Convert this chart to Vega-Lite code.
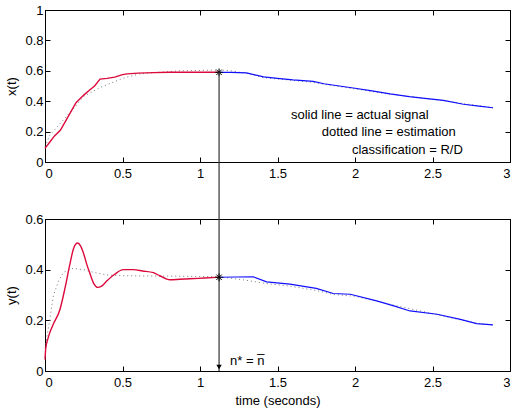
{
  "$schema": "https://vega.github.io/schema/vega-lite/v6.json",
  "padding": {"left": 5, "top": 3, "right": 0, "bottom": 2},
  "background": "white",
  "spacing": 57,
  "bounds": "flush",
  "config": {
    "view": {"stroke": "black", "strokeWidth": 1},
    "axis": {
      "labelFont": "Liberation Sans", "labelFontSize": 13, "labelColor": "black",
      "titleFont": "Liberation Sans", "titleFontSize": 13, "titleFontWeight": "normal", "titleColor": "black",
      "domainColor": "black", "tickColor": "black", "tickSize": -5, "grid": false, "format": "~g"
    },
    "text": {"font": "Liberation Sans", "fontSize": 13}
  },
  "datasets": {
    "top": [
      {"s": "red", "t": 0, "v": 0.09}, {"s": "red", "t": 0.03, "v": 0.13}, {"s": "red", "t": 0.06, "v": 0.17},
      {"s": "red", "t": 0.1, "v": 0.21}, {"s": "red", "t": 0.15, "v": 0.3}, {"s": "red", "t": 0.2, "v": 0.39},
      {"s": "red", "t": 0.25, "v": 0.44}, {"s": "red", "t": 0.29, "v": 0.475}, {"s": "red", "t": 0.32, "v": 0.5},
      {"s": "red", "t": 0.355, "v": 0.545}, {"s": "red", "t": 0.4, "v": 0.55}, {"s": "red", "t": 0.45, "v": 0.558},
      {"s": "red", "t": 0.5, "v": 0.575}, {"s": "red", "t": 0.53, "v": 0.58}, {"s": "red", "t": 0.6, "v": 0.585},
      {"s": "red", "t": 0.7, "v": 0.588}, {"s": "red", "t": 0.8, "v": 0.59}, {"s": "red", "t": 0.9, "v": 0.59},
      {"s": "red", "t": 1.0, "v": 0.59}, {"s": "red", "t": 1.123, "v": 0.59},
      {"s": "blue", "t": 1.123, "v": 0.59}, {"s": "blue", "t": 1.2, "v": 0.59}, {"s": "blue", "t": 1.3, "v": 0.586},
      {"s": "blue", "t": 1.41, "v": 0.56}, {"s": "blue", "t": 1.5, "v": 0.55}, {"s": "blue", "t": 1.6, "v": 0.54},
      {"s": "blue", "t": 1.73, "v": 0.53}, {"s": "blue", "t": 1.8, "v": 0.515}, {"s": "blue", "t": 1.9, "v": 0.5},
      {"s": "blue", "t": 2.0, "v": 0.485}, {"s": "blue", "t": 2.1, "v": 0.47}, {"s": "blue", "t": 2.226, "v": 0.448},
      {"s": "blue", "t": 2.35, "v": 0.43}, {"s": "blue", "t": 2.45, "v": 0.418}, {"s": "blue", "t": 2.57, "v": 0.405},
      {"s": "blue", "t": 2.7, "v": 0.38}, {"s": "blue", "t": 2.8, "v": 0.368}, {"s": "blue", "t": 2.89, "v": 0.357},
      {"s": "est", "t": 0, "v": 0.1}, {"s": "est", "t": 0.03, "v": 0.175}, {"s": "est", "t": 0.13, "v": 0.29},
      {"s": "est", "t": 0.2, "v": 0.37}, {"s": "est", "t": 0.247, "v": 0.43}, {"s": "est", "t": 0.355, "v": 0.49},
      {"s": "est", "t": 0.5, "v": 0.55}, {"s": "est", "t": 0.61, "v": 0.58}, {"s": "est", "t": 0.87, "v": 0.6},
      {"s": "est", "t": 1.12, "v": 0.605}, {"s": "est", "t": 1.2, "v": 0.6}, {"s": "est", "t": 1.3, "v": 0.583},
      {"s": "est", "t": 1.41, "v": 0.555}, {"s": "est", "t": 1.73, "v": 0.524}, {"s": "est", "t": 1.8, "v": 0.511},
      {"s": "est", "t": 2.2, "v": 0.45}, {"s": "est", "t": 2.57, "v": 0.404}, {"s": "est", "t": 2.89, "v": 0.356}
    ],
    "bottom": [
      {"s": "red", "t": 0, "v": 0.045}, {"s": "red", "t": 0.005, "v": 0.09}, {"s": "red", "t": 0.02, "v": 0.13},
      {"s": "red", "t": 0.05, "v": 0.18}, {"s": "red", "t": 0.097, "v": 0.244}, {"s": "red", "t": 0.13, "v": 0.33},
      {"s": "red", "t": 0.16, "v": 0.42}, {"s": "red", "t": 0.185, "v": 0.485}, {"s": "red", "t": 0.21, "v": 0.505},
      {"s": "red", "t": 0.23, "v": 0.493}, {"s": "red", "t": 0.25, "v": 0.462}, {"s": "red", "t": 0.27, "v": 0.42},
      {"s": "red", "t": 0.29, "v": 0.385}, {"s": "red", "t": 0.315, "v": 0.345}, {"s": "red", "t": 0.34, "v": 0.33},
      {"s": "red", "t": 0.365, "v": 0.335}, {"s": "red", "t": 0.4, "v": 0.356}, {"s": "red", "t": 0.45, "v": 0.382},
      {"s": "red", "t": 0.505, "v": 0.4}, {"s": "red", "t": 0.57, "v": 0.4}, {"s": "red", "t": 0.63, "v": 0.395},
      {"s": "red", "t": 0.7, "v": 0.388}, {"s": "red", "t": 0.74, "v": 0.376}, {"s": "red", "t": 0.806, "v": 0.36},
      {"s": "red", "t": 0.87, "v": 0.362}, {"s": "red", "t": 0.935, "v": 0.364}, {"s": "red", "t": 1.03, "v": 0.367},
      {"s": "red", "t": 1.123, "v": 0.37},
      {"s": "blue", "t": 1.123, "v": 0.37}, {"s": "blue", "t": 1.344, "v": 0.372}, {"s": "blue", "t": 1.43, "v": 0.352},
      {"s": "blue", "t": 1.58, "v": 0.343}, {"s": "blue", "t": 1.75, "v": 0.326}, {"s": "blue", "t": 1.86, "v": 0.306},
      {"s": "blue", "t": 1.97, "v": 0.303}, {"s": "blue", "t": 2.14, "v": 0.277}, {"s": "blue", "t": 2.25, "v": 0.257},
      {"s": "blue", "t": 2.355, "v": 0.237}, {"s": "blue", "t": 2.53, "v": 0.224}, {"s": "blue", "t": 2.68, "v": 0.204},
      {"s": "blue", "t": 2.785, "v": 0.187}, {"s": "blue", "t": 2.89, "v": 0.182},
      {"s": "est", "t": 0, "v": 0.09}, {"s": "est", "t": 0.03, "v": 0.2}, {"s": "est", "t": 0.054, "v": 0.297},
      {"s": "est", "t": 0.09, "v": 0.36}, {"s": "est", "t": 0.12, "v": 0.39}, {"s": "est", "t": 0.18, "v": 0.405},
      {"s": "est", "t": 0.25, "v": 0.4}, {"s": "est", "t": 0.31, "v": 0.39}, {"s": "est", "t": 0.4, "v": 0.379},
      {"s": "est", "t": 0.5, "v": 0.376}, {"s": "est", "t": 0.7, "v": 0.375}, {"s": "est", "t": 0.9, "v": 0.374},
      {"s": "est", "t": 1.123, "v": 0.372}, {"s": "est", "t": 1.28, "v": 0.36}, {"s": "est", "t": 1.43, "v": 0.345},
      {"s": "est", "t": 1.58, "v": 0.335}, {"s": "est", "t": 1.75, "v": 0.318}, {"s": "est", "t": 1.86, "v": 0.302},
      {"s": "est", "t": 2.0, "v": 0.295}, {"s": "est", "t": 2.14, "v": 0.275}, {"s": "est", "t": 2.25, "v": 0.26},
      {"s": "est", "t": 2.4, "v": 0.24}, {"s": "est", "t": 2.53, "v": 0.222}, {"s": "est", "t": 2.68, "v": 0.202},
      {"s": "est", "t": 2.785, "v": 0.188}, {"s": "est", "t": 2.89, "v": 0.182}
    ],
    "topNotes": [
      {"t": 1.587, "v": 0.31, "label": "solid line = actual signal"},
      {"t": 1.785, "v": 0.2, "label": "dotted line = estimation"},
      {"t": 1.98, "v": 0.076, "label": "classification = R/D"}
    ],
    "cut": [{"t": 1.123, "top": 0.59, "bottom": 0.37, "base": 0, "reach": 1.18, "label": "n* = n\u0305"}]
  },
  "vconcat": [
    {
      "width": 465, "height": 152,
      "resolve": {"axis": {"x": "independent", "y": "independent"}},
      "layer": [
        {
          "data": {"name": "top"},
          "transform": [{"filter": "datum.s == 'est'"}],
          "mark": {"type": "line", "color": "#777777", "strokeWidth": 1, "strokeDash": [1, 3]},
          "encoding": {
            "x": {"field": "t", "type": "quantitative", "scale": {"domain": [0, 3], "nice": false},
                  "axis": {"orient": "top", "labels": false, "title": null, "values": [0, 0.5, 1, 1.5, 2, 2.5, 3]}},
            "y": {"field": "v", "type": "quantitative", "scale": {"domain": [0, 1], "nice": false},
                  "axis": {"orient": "right", "labels": false, "title": null, "values": [0, 0.2, 0.4, 0.6, 0.8, 1]}}
          }
        },
        {
          "data": {"name": "top"},
          "transform": [{"filter": "datum.s == 'red'"}],
          "mark": {"type": "line", "color": "#dc0a3c", "strokeWidth": 1.4},
          "encoding": {
            "x": {"field": "t", "type": "quantitative", "axis": {"title": null, "values": [0, 0.5, 1, 1.5, 2, 2.5, 3], "labelPadding": 10}},
            "y": {"field": "v", "type": "quantitative", "axis": {"title": "x(t)", "values": [0, 0.2, 0.4, 0.6, 0.8, 1], "labelPadding": 7, "titlePadding": 6}}
          }
        },
        {
          "data": {"name": "top"},
          "transform": [{"filter": "datum.s == 'blue'"}],
          "mark": {"type": "line", "color": "#1010ff", "strokeWidth": 1.2},
          "encoding": {
            "x": {"field": "t", "type": "quantitative", "axis": null},
            "y": {"field": "v", "type": "quantitative", "axis": null}
          }
        },
        {
          "data": {"name": "cut"},
          "mark": {"type": "point", "shape": "M-1,0L1,0M0,-1L0,1M-0.7,-0.7L0.7,0.7M-0.7,0.7L0.7,-0.7", "filled": false, "fill": null, "stroke": "black", "strokeWidth": 1, "size": 60, "opacity": 1},
          "encoding": {
            "x": {"field": "t", "type": "quantitative", "axis": null},
            "y": {"field": "top", "type": "quantitative", "axis": null}
          }
        },
        {
          "data": {"name": "topNotes"},
          "mark": {"type": "text", "align": "left", "baseline": "middle", "color": "black"},
          "encoding": {
            "x": {"field": "t", "type": "quantitative", "axis": null},
            "y": {"field": "v", "type": "quantitative", "axis": null},
            "text": {"field": "label"}
          }
        }
      ]
    },
    {
      "width": 465, "height": 152,
      "resolve": {"axis": {"x": "independent", "y": "independent"}},
      "layer": [
        {
          "data": {"name": "bottom"},
          "transform": [{"filter": "datum.s == 'est'"}],
          "mark": {"type": "line", "color": "#777777", "strokeWidth": 1, "strokeDash": [1, 3]},
          "encoding": {
            "x": {"field": "t", "type": "quantitative", "scale": {"domain": [0, 3], "nice": false},
                  "axis": {"orient": "top", "labels": false, "title": null, "values": [0, 0.5, 1, 1.5, 2, 2.5, 3]}},
            "y": {"field": "v", "type": "quantitative", "scale": {"domain": [0, 0.6], "nice": false},
                  "axis": {"orient": "right", "labels": false, "title": null, "values": [0, 0.2, 0.4, 0.6]}}
          }
        },
        {
          "data": {"name": "bottom"},
          "transform": [{"filter": "datum.s == 'red'"}],
          "mark": {"type": "line", "color": "#dc0a3c", "strokeWidth": 1.4, "interpolate": "monotone"},
          "encoding": {
            "x": {"field": "t", "type": "quantitative", "axis": {"title": "time (seconds)", "values": [0, 0.5, 1, 1.5, 2, 2.5, 3], "labelPadding": 10, "titlePadding": 5}},
            "y": {"field": "v", "type": "quantitative", "axis": {"title": "y(t)", "values": [0, 0.2, 0.4, 0.6], "labelPadding": 7, "titlePadding": 6}}
          }
        },
        {
          "data": {"name": "bottom"},
          "transform": [{"filter": "datum.s == 'blue'"}],
          "mark": {"type": "line", "color": "#1010ff", "strokeWidth": 1.2},
          "encoding": {
            "x": {"field": "t", "type": "quantitative", "axis": null},
            "y": {"field": "v", "type": "quantitative", "axis": null}
          }
        },
        {
          "data": {"name": "cut"},
          "mark": {"type": "rule", "color": "#333333", "strokeWidth": 1.2},
          "encoding": {
            "x": {"field": "t", "type": "quantitative", "axis": null},
            "y": {"field": "base", "type": "quantitative", "axis": null},
            "y2": {"field": "reach"}
          }
        },
        {
          "data": {"name": "cut"},
          "mark": {"type": "point", "shape": "triangle-down", "filled": true, "color": "black", "size": 30, "yOffset": -4, "opacity": 1},
          "encoding": {
            "x": {"field": "t", "type": "quantitative", "axis": null},
            "y": {"field": "base", "type": "quantitative", "axis": null}
          }
        },
        {
          "data": {"name": "cut"},
          "mark": {"type": "point", "shape": "M-1,0L1,0M0,-1L0,1M-0.7,-0.7L0.7,0.7M-0.7,0.7L0.7,-0.7", "filled": false, "fill": null, "stroke": "black", "strokeWidth": 1, "size": 60, "opacity": 1},
          "encoding": {
            "x": {"field": "t", "type": "quantitative", "axis": null},
            "y": {"field": "bottom", "type": "quantitative", "axis": null}
          }
        },
        {
          "data": {"name": "cut"},
          "mark": {"type": "text", "align": "left", "baseline": "alphabetic", "color": "black", "dx": 11, "dy": -6},
          "encoding": {
            "x": {"field": "t", "type": "quantitative", "axis": null},
            "y": {"field": "base", "type": "quantitative", "axis": null},
            "text": {"field": "label"}
          }
        }
      ]
    }
  ]
}
